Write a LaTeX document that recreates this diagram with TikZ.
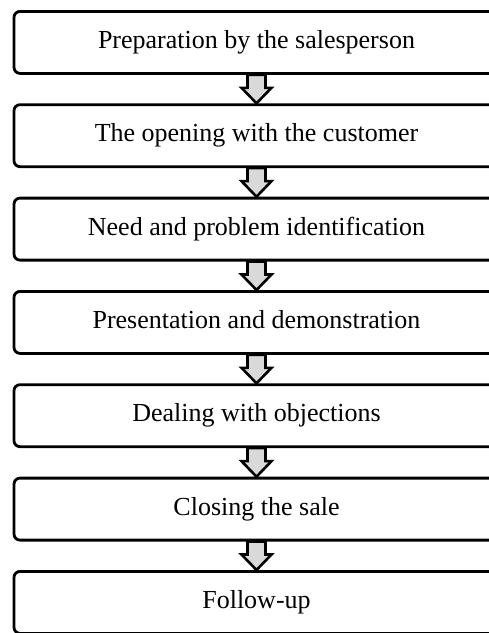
\documentclass[tikz,border=0pt]{standalone}
\usepackage{fontspec}
\setmainfont{Liberation Serif}
\usetikzlibrary{calc}
\definecolor{arrowgray}{HTML}{D9D9D9}
\tikzset{
  stepbox/.style={draw=black, line width=2.8pt, rounded corners=6pt, fill=white,
    minimum width=485pt, minimum height=62pt, inner sep=0pt,
    text height=17.5pt, text depth=5.5pt,
    font=\fontsize{26}{30}\selectfont, anchor=north},
  blockarrow/.style={draw=black, line width=2.6pt, fill=arrowgray, line join=miter}
}
\newcommand{\flowarrow}[2]{%
  \path let \p1=(#1.south), \p2=(#2.north) in
    [blockarrow] (\x1-9pt,\y1) -- (\x1-9pt,\y1-13pt) -- (\x1-15pt,\y1-13pt)
    -- (\x1,\y2) -- (\x1+15pt,\y1-13pt) -- (\x1+9pt,\y1-13pt) -- (\x1+9pt,\y1) -- cycle;}
\begin{document}
\begin{tikzpicture}[x=1pt,y=1pt]
\useasboundingbox (0,0) rectangle (489,-633);
\node[stepbox] (b1) at (256.5,-10) {Preparation by the salesperson};
\node[stepbox] (b2) at (256.5,-103.3) {The opening with the customer};
\node[stepbox] (b3) at (256.5,-196.7) {Need and problem identification};
\node[stepbox] (b4) at (256.5,-290) {Presentation and demonstration};
\node[stepbox] (b5) at (256.5,-383.3) {Dealing with objections};
\node[stepbox] (b6) at (256.5,-476.7) {Closing the sale};
\node[stepbox] (b7) at (256.5,-570) {Follow-up};
\flowarrow{b1}{b2}
\flowarrow{b2}{b3}
\flowarrow{b3}{b4}
\flowarrow{b4}{b5}
\flowarrow{b5}{b6}
\flowarrow{b6}{b7}
\end{tikzpicture}
\end{document}
